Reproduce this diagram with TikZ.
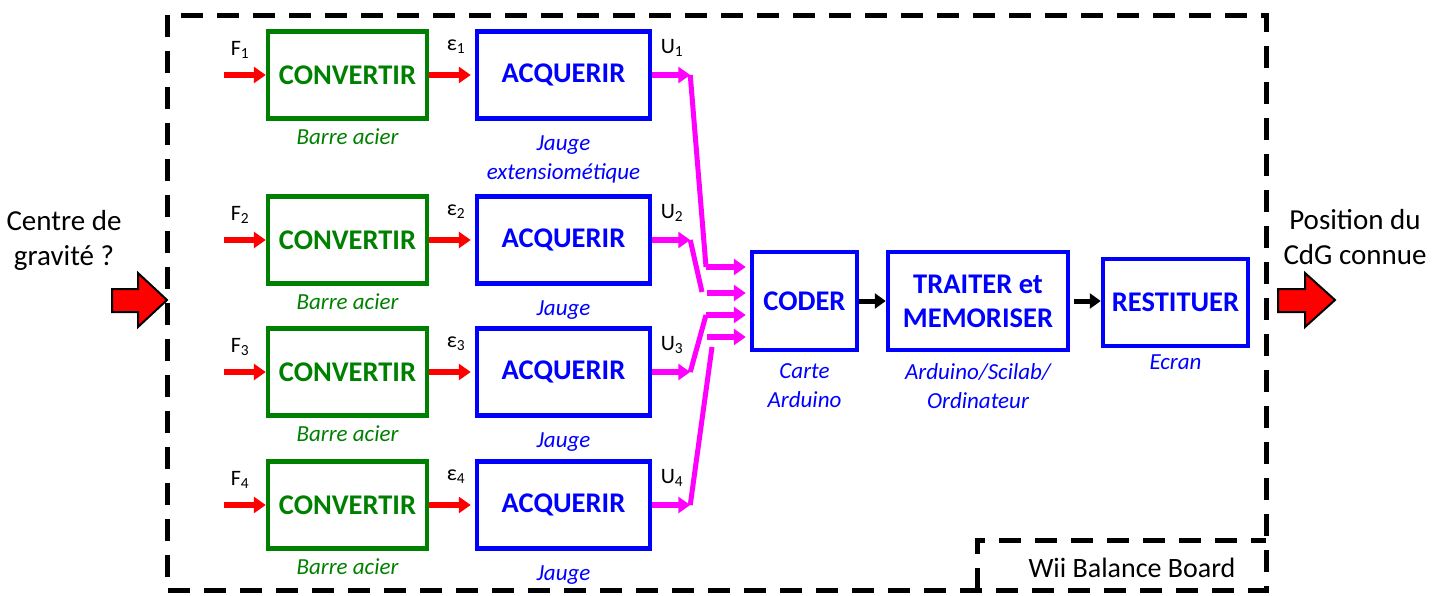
\documentclass[tikz,border=0pt]{standalone}
\usepackage{fontspec}
\setmainfont{Carlito}
\usetikzlibrary{arrows.meta,positioning}
\definecolor{vert}{RGB}{0,128,0}
\definecolor{bleu}{RGB}{0,0,255}
\definecolor{rose}{RGB}{255,0,255}
\definecolor{rouge}{RGB}{255,0,0}
\tikzset{
  fonction/.style={draw, line width=4.5pt, font=\fontsize{28.5}{34}\selectfont\bfseries, align=center},
  convbox/.style={fonction, draw=vert, text=vert, minimum width=159pt, minimum height=87pt},
  acqbox/.style={fonction, draw=bleu, text=bleu, minimum width=173pt, minimum height=87pt},
  bleubox/.style={fonction, draw=bleu, text=bleu},
  support/.style={font=\fontsize{23}{29}\selectfont\itshape, align=center, inner sep=0pt},
  signal/.style={font=\fontsize{22}{24}\selectfont, inner sep=0pt},
  texte/.style={font=\fontsize{29}{35}\selectfont, align=center, inner sep=0pt},
  fleche/.style={line width=6pt, -{Triangle[length=12pt,width=16pt]}},
  ligne/.style={line width=5pt, draw=rose},
  noire/.style={line width=5pt, -{Triangle[length=11pt,width=15pt]}},
  cadre/.style={line width=5pt, dash pattern=on 22pt off 14pt},
  grosse/.style={draw=black, line width=2pt, fill=rouge, line join=miter}
}
\begin{document}
\begin{tikzpicture}[x=1pt,y=-1pt]
\useasboundingbox (0,0) rectangle (1439,595);

% frontiere du systeme
\draw[cadre] (167,15) rectangle (1266,590);
\draw[cadre] (977,590) -- (977,540) -- (1266,540);
\node[texte, font=\fontsize{28}{30}\selectfont] (wii) at (1132,568) {Wii Balance Board};

% chaines d'acquisition
\foreach \i/\yy/\nomjauge in {1/75/{Jauge\\extensiométique},2/240/Jauge,3/372/Jauge,4/505/Jauge}{
  \node[convbox] (conv\i) at (347.5,\yy) {CONVERTIR};
  \node[acqbox] (acq\i) at (563.5,\yy) {ACQUERIR};
  \node[support, text=vert, below=8pt of conv\i] (barre\i) {Barre acier};
  \node[support, text=bleu, below=15pt of acq\i] (jauge\i) {\nomjauge};
  \coordinate (f\i) at (224,\yy);
  \draw[fleche, rouge] (f\i) -- (conv\i.west);
  \draw[fleche, rouge, shorten >=4pt] (conv\i.east) -- (acq\i.west);
  \draw[fleche, rose] (acq\i.east) -- ++(38,0) coordinate (u\i);
  \node[signal] (F\i) at (240,\yy-25) {F\textsubscript{\i}};
  \node[signal] (eps\i) at (456,\yy-28) {ε\textsubscript{\i}};
  \node[signal] (U\i) at (672,\yy-27) {U\textsubscript{\i}};
}

% traitement
\node[bleubox, minimum width=105pt, minimum height=98pt] (coder) at (804.5,301) {CODER};
\node[bleubox, minimum width=180pt, minimum height=98pt] (traiter) at (978,301) {TRAITER et\\MEMORISER};
\node[bleubox, minimum width=145pt, minimum height=87pt] (restituer) at (1175.5,302.5) {RESTITUER};
\node[support, text=bleu, below=11pt of coder] (carte) {Carte\\Arduino};
\node[support, text=bleu, below=11pt of traiter] (ordi) {Arduino/Scilab/\\Ordinateur};
\node[support, text=bleu, below=6pt of restituer] (ecran) {Ecran};

% regroupement des tensions
\coordinate (in1) at (706,267);
\coordinate (in2) at (707,293);
\coordinate (in3) at (706,315);
\coordinate (in4) at (707,337);
\coordinate (j2) at (702,292);
\coordinate (j4) at (712,347);
\draw[ligne] (u1) -- (in1);
\draw[ligne] (u2) -- (j2);
\draw[ligne] (u3) -- (in3);
\draw[ligne] (u4) -- (j4);
\foreach \k in {1,...,4}{
  \draw[fleche, rose, shorten >=4pt] (in\k) -- (in\k -| coder.west);
}

\draw[noire] (coder.east) -- (traiter.west);
\draw[noire, shorten <=4pt] (traiter.east) -- (traiter.east -| restituer.west);

% entree / sortie
\draw[grosse] (112,289) -- (138,289) -- (138,273) -- (167,300) -- (138,327) -- (138,312) -- (112,312) -- cycle;
\draw[grosse] (1278,289) -- (1305,289) -- (1305,273) -- (1335,300) -- (1305,327) -- (1305,312) -- (1278,312) -- cycle;
\node[texte] (centre) at (64,240) {Centre de\\gravité ?};
\node[texte] (position) at (1355,237) {Position du\\CdG connue};
\end{tikzpicture}
\end{document}
